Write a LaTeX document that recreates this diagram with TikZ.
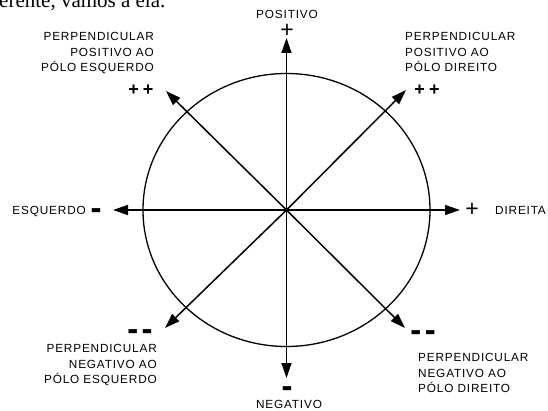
\documentclass[tikz,border=0pt]{standalone}
\usepackage{fontspec}
\setmainfont{Liberation Sans}
\newfontfamily\lblfont[LetterSpace=7]{Liberation Sans}
\newfontfamily\symfont{DejaVu Sans}
\newfontfamily\serfont{Liberation Serif}
\usetikzlibrary{arrows.meta}
\begin{document}
\begin{tikzpicture}[x=1pt,y=-1pt,
  arr/.style={line width=1.5pt,-{Triangle[length=15pt,width=10pt]}},
  lbl/.style={inner sep=0pt,font=\lblfont\fontsize{11.8}{15.5}\selectfont},
  thinplus/.style={inner sep=0pt,font=\fontsize{23}{23}\selectfont},
  boldplus/.style={inner sep=0pt,font=\bfseries\fontsize{18}{18}\selectfont},
  bar/.style={inner sep=0pt,font=\symfont\fontsize{11}{11}\selectfont}]
\clip (0,0) rectangle (548,411);
% cut-off text line at top
\node[anchor=base west,inner sep=0pt,font=\serfont\fontsize{21}{21}\selectfont] (topline) at (-1,8) {erente, vamos a ela.};
% centre and tips
\coordinate (O) at (286.5,210);
\coordinate (N) at (286.5,38);
\coordinate (S) at (286.5,378);
\coordinate (W) at (113,210);
\coordinate (E) at (460,210);
\coordinate (NW) at (166,91);
\coordinate (NE) at (406,90);
\coordinate (SW) at (165,328);
\coordinate (SE) at (405,328);
\draw[line width=1.3pt] (O) ellipse [x radius=143.5pt, y radius=136.5pt];
\foreach \t in {N,S,W,E,NW,NE,SW,SE} \draw[arr] (O) -- (\t);
% labels
\node[lbl] (pos) at (287,14) {POSITIVO};
\node[thinplus] (posp) at (287,31) {+};
\node[lbl] (neg) at (289,404) {NEGATIVO};
\node[bar] (negm) at (287,389) {▬};
\node[lbl,anchor=east] (esq) at (86,211) {ESQUERDO};
\node[bar] (esqm) at (96,211) {▬};
\node[lbl,anchor=west] (dir) at (495,210) {DIREITA};
\node[thinplus] (dirp) at (472,210) {+};
\node[lbl,anchor=east,align=right] (ul) at (154,53) {PERPENDICULAR\\POSITIVO AO\\PÓLO ESQUERDO};
\node[boldplus] (ulp) at (141,90) {+\kern4pt+};
\node[lbl,anchor=west,align=left] (ur) at (405,52) {PERPENDICULAR\\POSITIVO AO\\PÓLO DIREITO};
\node[boldplus] (urp) at (427,90) {+\kern4pt+};
\node[lbl,anchor=east,align=right] (ll) at (157,365) {PERPENDICULAR\\NEGATIVO AO\\PÓLO ESQUERDO};
\node[bar] (llm) at (140,332) {▬\kern4pt▬};
\node[lbl,anchor=west,align=left] (lr) at (418,373) {PERPENDICULAR\\NEGATIVO AO\\PÓLO DIREITO};
\node[bar] (lrm) at (423,333) {▬\kern4pt▬};
\end{tikzpicture}
\end{document}
